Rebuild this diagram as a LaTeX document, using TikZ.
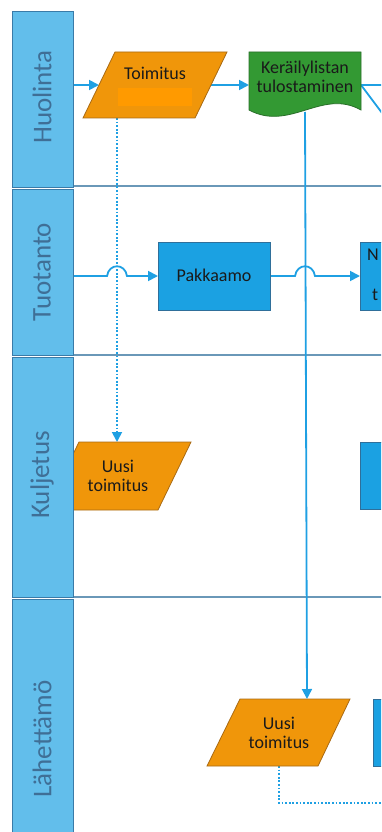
\documentclass[tikz,border=0pt]{standalone}
\usepackage{fontspec}
\setmainfont{Carlito}
\usetikzlibrary{arrows.meta}
\definecolor{hdrfill}{HTML}{62BEEB}
\definecolor{hdrdraw}{HTML}{3A7BA8}
\definecolor{hdrtext}{HTML}{3F6F96}
\definecolor{lanecol}{HTML}{6A98B8}
\definecolor{conncol}{HTML}{1FA0E3}
\definecolor{orfill}{HTML}{F0960A}
\definecolor{ordraw}{HTML}{A86A14}
\definecolor{redact}{HTML}{FF9A00}
\definecolor{grfill}{HTML}{339933}
\definecolor{grdraw}{HTML}{2A6F2A}
\definecolor{blfill}{HTML}{1BA1E2}
\definecolor{bldraw}{HTML}{2F6F9A}
\definecolor{txtcol}{HTML}{1A1A1A}
\begin{document}
\begin{tikzpicture}[x=1pt,y=-1pt,
  conn/.style={draw=conncol,line width=1.8pt},
  tip/.style={-{Triangle[length=10pt,width=10pt]}},
  dots/.style={dash pattern=on 1.8pt off 1.8pt},
  hdr/.style={draw=hdrdraw,fill=hdrfill,line width=1pt},
  hdrlbl/.style={rotate=90,text=hdrtext,font=\fontsize{27}{30}\selectfont,inner sep=0pt},
  lanesep/.style={draw=lanecol,line width=1.3pt},
  lbl/.style={font=\fontsize{18}{19.5}\selectfont,text=txtcol,align=center,inner sep=0pt},
  orshape/.style={fill=orfill,draw=ordraw,line width=0.8pt},
  grshape/.style={fill=grfill,draw=grdraw,line width=0.8pt},
  blshape/.style={fill=blfill,draw=bldraw,line width=0.8pt}
]
\useasboundingbox (0,0) rectangle (381,832);
\clip (0,0) rectangle (381,832);

% lane separators
\draw[lanesep] (73,186) -- (400,186);
\draw[lanesep] (73,355) -- (400,355);
\draw[lanesep] (73,597) -- (400,597);

% named points on shape edges
\coordinate (in1) at (73,85);
\coordinate (toimL) at (99,85);
\coordinate (toimR) at (211,85);
\coordinate (toimB) at (117,118);
\coordinate (kerL) at (249,85);
\coordinate (kerR) at (361,85);
\coordinate (kerB) at (305,112);
\coordinate (out1) at (400,85);
\coordinate (out2) at (400,137);
\coordinate (ukT) at (117,442);
\coordinate (ulT) at (307,699);
\coordinate (ulB) at (279,766);
\coordinate (ulC) at (279,803);
\coordinate (out3) at (400,803);
\coordinate (in2) at (73,276);
\coordinate (pakL) at (158,276);
\coordinate (pakR) at (270,276);
\coordinate (nL) at (360,276);

% connectors
\draw[conn,tip] (in1) -- (toimL);
\draw[conn,tip] (toimR) -- (kerL);
\draw[conn] (kerR) -- (out1);
\draw[conn] (kerR) -- (out2);
\draw[conn,dots,tip] (toimB) -- (ukT);
\draw[conn,tip] (kerB) -- (ulT);
\draw[conn,tip] (in2) -- (107,276) .. controls (109,263) and (125,263) .. (127,276) -- (pakL);
\draw[conn,tip] (pakR) -- (295,276) .. controls (297,263) and (313,263) .. (315,276) -- (nL);
\draw[conn,dots] (ulB) -- (ulC) -- (out3);

% Huolinta shapes
\path[orshape] (115,52) -- (227,52) -- (195,118) -- (83,118) -- cycle;
\fill[redact] (118,88) rectangle (192,106);
\node[lbl,anchor=base] (toimitus) at (155,80) {Toimitus};
\path[grshape] (249,52) -- (361,52) -- (361,110) .. controls (322,88) and (290,132) .. (249,110) -- cycle;
\node[lbl] (keraily) at (305,77) {Keräilylistan\\tulostaminen};

% Tuotanto shapes
\path[blshape] (158,242) rectangle (270,310);
\node[lbl,anchor=base] (pakkaamo) at (214,281) {Pakkaamo};
\path[blshape] (360,242) rectangle (472,310);
\node[lbl,anchor=base west] (nbox1) at (367,260) {N};
\node[lbl,anchor=base west] (nbox2) at (372,300) {t};

% Kuljetus shapes
\path[orshape] (79,442) -- (191,442) -- (158,510) -- (46,510) -- cycle;
\node[lbl] (uusiK) at (118,476) {Uusi\\toimitus};
\path[blshape] (360,442) rectangle (472,509);

% Lahettamo shapes
\path[orshape] (240,699) -- (350,699) -- (318,766) -- (207,766) -- cycle;
\node[lbl] (uusiL) at (279,733) {Uusi\\toimitus};
\path[blshape] (373,699) rectangle (485,766);

% lane headers
\draw[hdr] (12,12) rectangle (73,187);
\draw[hdr] (12,189) rectangle (73,355);
\draw[hdr] (12,357) rectangle (73,597);
\draw[hdr] (12,599) rectangle (73,850);
\node[hdrlbl] (hHuo) at (42,97) {Huolinta};
\node[hdrlbl] (hTuo) at (42,272) {Tuotanto};
\node[hdrlbl] (hKul) at (42,475) {Kuljetus};
\node[hdrlbl] (hLah) at (42,739) {Lähettämö};
\end{tikzpicture}
\end{document}
